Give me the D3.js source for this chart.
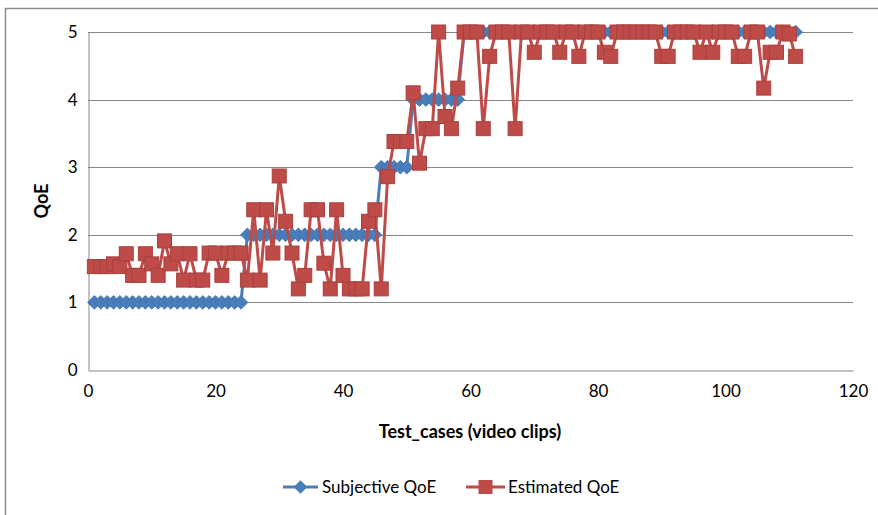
<!DOCTYPE html>
<html>
<head>
<meta charset="utf-8">
<script src="https://cdn.jsdelivr.net/npm/d3@7"></script>
<style>
  body { margin: 0; background: #fff; }
  text { font-family: Lato, "Liberation Sans", sans-serif; fill: #000; }
</style>
</head>
<body>
<div id="chart"></div>
<script>
const subjective = [
  1,1,1,1,1,1,1,1,1,1,1,1,1,1,1,1,1,1,1,1,1,1,1,1,
  2,2,2,2,2,2,2,2,2,2,2,2,2,2,2,2,2,2,2,2,2,
  3,3,3,3,3,
  4,4,4,4,4,4,4,4,
  5,5,5,5,5,5,5,5,5,5,
  5,5,5,5,5,5,5,5,5,5,
  5,5,5,5,5,5,5,5,5,5,
  5,5,5,5,5,5,5,5,5,5,
  5,5,5,5,5,5,5,5,5,5,
  5,5,5
]
const estimated = [
  1.53,1.53,1.53,1.57,1.53,1.72,1.4,1.4,1.72,1.57,
  1.4,1.91,1.57,1.72,1.33,1.72,1.33,1.33,1.73,1.73,
  1.4,1.73,1.73,1.73,1.33,2.37,1.33,2.37,1.73,2.87,
  2.2,1.73,1.2,1.4,2.37,2.37,1.58,1.2,2.37,1.4,
  1.2,1.2,1.2,2.2,2.37,1.2,2.86,3.38,3.38,3.38,
  4.1,3.06,3.57,3.57,5,3.75,3.57,4.17,5,5,
  5,3.57,4.64,5,5,5,3.57,5,5,4.7,
  5,5,5,4.7,5,5,4.64,5,5,5,
  4.7,4.64,5,5,5,5,5,5,5,4.64,
  4.64,5,5,5,5,4.7,5,4.7,5,5,
  5,4.64,4.64,5,5,4.17,4.7,4.7,5,4.97,
  4.64
]
const xTicks = [0, 20, 40, 60, 80, 100, 120]
const yTicks = [0, 1, 2, 3, 4, 5]
const seriesNames = ['Subjective QoE', 'Estimated QoE']

const blue = '#4a7ebb'
const red = '#be4b48'
const W = 878, H = 515
const plot = {left: 88, right: 853, top: 32, bottom: 370}

const svg = d3.select('#chart').append('svg')
  .attr('width', W).attr('height', H)

// chart area border
svg.append('rect')
  .attr('x', 5.5).attr('y', 8.5)
  .attr('width', W + 10).attr('height', H + 10)
  .attr('fill', 'none').attr('stroke', '#8c8c8c').attr('stroke-width', 1.5)

const x = d3.scaleLinear().domain([0, 120]).range([plot.left, plot.right])
const y = d3.scaleLinear().domain([0, 5]).range([plot.bottom, plot.top])

// gridlines
svg.append('g')
  .selectAll('line').data(yTicks.slice(1)).join('line')
  .attr('x1', plot.left).attr('x2', plot.right)
  .attr('y1', d => Math.round(y(d)) + 0.5).attr('y2', d => Math.round(y(d)) + 0.5)
  .attr('stroke', '#868686')

// axes
const yAxis = svg.append('g')
  .attr('transform', `translate(${plot.left + 0.5},0)`)
  .call(d3.axisLeft(y).tickValues(yTicks).tickFormat(d3.format('d')).tickSize(0).tickPadding(11))
yAxis.select('.domain').attr('stroke', '#868686')
yAxis.selectAll('text').style('font-size', '17px')

const xAxis = svg.append('g')
  .attr('transform', `translate(0,${plot.bottom + 0.5})`)
  .call(d3.axisBottom(x).tickValues(xTicks).tickSize(0).tickPadding(14))
xAxis.select('.domain').attr('stroke', '#868686')
xAxis.selectAll('text').style('font-size', '17px')

// axis titles
svg.append('text')
  .attr('x', 470).attr('y', 438)
  .attr('text-anchor', 'middle')
  .style('font-size', '18px').style('font-weight', 'bold')
  .text('Test_cases (video clips)')

svg.append('text')
  .attr('transform', 'translate(48,201) rotate(-90)')
  .attr('text-anchor', 'middle')
  .style('font-size', '18px').style('font-weight', 'bold')
  .text('QoE')

const line = d3.line()
  .x((d, i) => x(i + 1))
  .y(d => y(d))

const diamond = d3.symbol().type(d3.symbolDiamond2).size(120)

// subjective series
svg.append('path')
  .datum(subjective)
  .attr('d', line)
  .attr('fill', 'none').attr('stroke', blue).attr('stroke-width', 3)
  .attr('stroke-linejoin', 'round')

svg.append('g')
  .selectAll('path').data(subjective).join('path')
  .attr('transform', (d, i) => `translate(${x(i + 1)},${y(d)})`)
  .attr('d', diamond)
  .attr('fill', blue).attr('stroke', '#3d6ead').attr('stroke-width', 0.8)

// estimated series
svg.append('path')
  .datum(estimated)
  .attr('d', line)
  .attr('fill', 'none').attr('stroke', red).attr('stroke-width', 3)
  .attr('stroke-linejoin', 'round')

svg.append('g')
  .selectAll('rect').data(estimated).join('rect')
  .attr('x', (d, i) => x(i + 1) - 7)
  .attr('y', d => y(d) - 7)
  .attr('width', 14).attr('height', 14)
  .attr('fill', red).attr('stroke', '#a9403d').attr('stroke-width', 1)

// legend
const legend = svg.append('g').attr('transform', 'translate(0,487)')
const items = [
  {name: seriesNames[0], color: blue, x0: 283, x1: 318, tx: 322, shape: 'diamond'},
  {name: seriesNames[1], color: red, x0: 466, x1: 505, tx: 508, shape: 'square'}
]
items.forEach(it => {
  legend.append('line')
    .attr('x1', it.x0).attr('x2', it.x1)
    .attr('stroke', it.color).attr('stroke-width', 3)
  const cx = (it.x0 + it.x1) / 2
  if (it.shape === 'diamond') {
    legend.append('path')
      .attr('transform', `translate(${cx},0)`)
      .attr('d', diamond).attr('fill', it.color)
  } else {
    legend.append('rect')
      .attr('x', cx - 7).attr('y', -7).attr('width', 14).attr('height', 14)
      .attr('fill', it.color)
  }
  legend.append('text')
    .attr('x', it.tx).attr('y', 6)
    .style('font-size', '17px')
    .text(it.name)
})
</script>
</body>
</html>
